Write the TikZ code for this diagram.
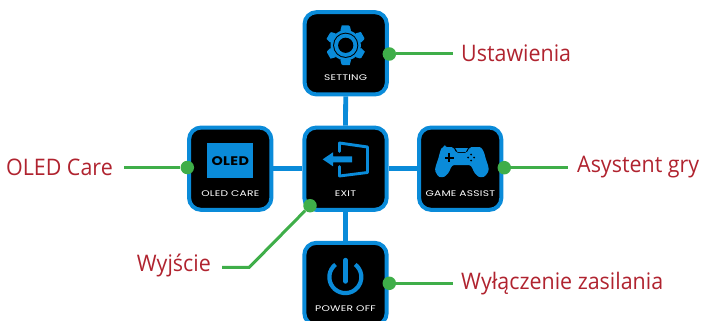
\documentclass[tikz,border=0pt]{standalone}
\usepackage{fontspec}
\setmainfont[FakeStretch=0.94]{Open Sans}
\newfontfamily\techfont[FakeStretch=1.3,LetterSpace=3]{Poppins}
\newfontfamily\oledfont[FakeStretch=1.15,LetterSpace=3]{Poppins}
\definecolor{bluec}{HTML}{0A8BD9}
\definecolor{greenc}{HTML}{3FAE49}
\definecolor{redc}{HTML}{B0232F}
\tikzset{
  menubox/.style={draw=bluec,fill=black,line width=4pt,rounded corners=12pt,minimum width=82.3pt,minimum height=82.3pt,inner sep=0pt},
  link/.style={draw=bluec,line width=4.8pt},
  lead/.style={draw=greenc,line width=3pt},
  leaddot/.style={circle,fill=greenc,minimum size=13.5pt,inner sep=0pt},
  caption/.style={text=redc,font=\fontsize{22.8}{25}\selectfont,inner sep=0pt},
  boxtext/.style={text=white,font=\techfont\fontsize{8.2}{9}\selectfont,inner sep=0pt}
}
\begin{document}
\begin{tikzpicture}[x=1pt,y=-1pt]
\useasboundingbox (0,0) rectangle (704,321);
\clip (0,0) rectangle (704,321);
\node[menubox] (setting) at (345.7,53.3) {};
\node[menubox] (oled) at (230.2,168.7) {};
\node[menubox] (exit) at (345.5,168.7) {};
\node[menubox] (game) at (460.2,168.7) {};
\node[menubox] (power) at (345.5,284) {};
\draw[link] (setting.south) -- (exit.north);
\draw[link] (oled.east) -- (exit.west);
\draw[link] (exit.east) -- (game.west);
\draw[link] (exit.south) -- (power.north);
% gear
\begin{scope}[shift={(345.7,45.3)}]
  \foreach \a in {90,150,210,270,330,30}{
    \fill[bluec,rotate=\a] (14,-5.5) -- (19.8,-4) [rounded corners=1pt] -- (19.8,4) -- (14,5.5) -- cycle;
  }
  \fill[bluec] (0,0) circle (15.2);
  \fill[black] (0,0) circle (12.6);
  \fill[bluec] (0,0) circle (11.6);
  \fill[black] (0,0) circle (7.6);
\end{scope}
% exit icon
\fill[bluec] (322.7,159.3) -- (333,152.3) -- (333,156.3) -- (352,156.3) -- (352,162.3) -- (333,162.3) -- (333,166.3) -- cycle;
\draw[bluec,line width=2.9pt,line join=round,line cap=round] (339.5,151.5) -- (339.5,143) -- (367.5,147) -- (367.5,172.5) -- (339.5,176) -- (339.5,166.5);
% OLED icon
\fill[bluec] (207.3,143.3) rectangle (253.3,178.3);
\node[text=black,font=\oledfont\bfseries\fontsize{12.5}{14}\selectfont,inner sep=0pt] at (230.3,161) {OLED};
% gamepad
\fill[bluec,rounded corners=2pt] (445,147) -- (453.5,147) -- (456,153) -- (467,153) -- (469.5,147) -- (478,147)
  .. controls (482,147.5) and (484,152) .. (485,156)
  .. controls (487,163) and (490,169) .. (487,173.5)
  .. controls (484,178) and (479,177.5) .. (476,174.5)
  .. controls (473,171) and (472,165) .. (467,165)
  -- (456,165)
  .. controls (451,165) and (450,171) .. (447,174.5)
  .. controls (444,177.5) and (439,178) .. (436.5,173.5)
  .. controls (434,169) and (437,163) .. (439,156)
  .. controls (440,152) and (441,147.5) .. (445,147) -- cycle;
\fill[bluec] (455.2,148) -- (468,148) -- (465.6,152) -- (457.6,152) -- cycle;
\fill[black] (448.2,153) rectangle (450.2,162);
\fill[black] (444.7,156.5) rectangle (453.7,158.5);
\fill[black] (471,154.5) circle (1) (471,160.5) circle (1) (468,157.5) circle (1) (474,157.5) circle (1);
% power
\draw[bluec,line width=4.2pt] (335.5,264.5) arc[start angle=232,end angle=-52,radius=16];
\draw[bluec,line width=4.4pt,line cap=round] (345.5,260) -- (345.5,281.5);
% box labels
\node[boxtext] (settingtext) at (345.7,78) {SETTING};
\node[boxtext] (oledtext) at (230.3,193.5) {OLED CARE};
\node[boxtext] (exittext) at (345.5,193.5) {EXIT};
\node[boxtext] (gametext) at (460.3,193.5) {GAME ASSIST};
\node[boxtext] (powertext) at (345.5,308.5) {POWER OFF};
% leads
\node[leaddot] (d1) at (389.3,54) {};
\node[leaddot] (d2) at (187.3,167.5) {};
\node[leaddot] (d3) at (504.3,167.7) {};
\node[leaddot] (d4) at (310,205.7) {};
\node[leaddot] (d5) at (389.3,283.3) {};
\node[caption,anchor=west] (c1) at (461,53.5) {Ustawienia};
\node[caption,anchor=east] (c2) at (113,167.5) {OLED Care};
\node[caption,anchor=west] (c3) at (577,167.5) {Asystent gry};
\node[caption,anchor=east] (c4) at (211,266) {Wyjście};
\node[caption,anchor=west] (c5) at (461,283.5) {Wyłączenie zasilania};
\coordinate (e1) at (453,54);
\coordinate (e2) at (124,167.5);
\coordinate (e3) at (568,167.7);
\coordinate (e4) at (222,267.3);
\coordinate (k4) at (249.3,267.3);
\coordinate (e5) at (453,283.3);
\draw[lead] (d1) -- (e1);
\draw[lead] (d2) -- (e2);
\draw[lead] (d3) -- (e3);
\draw[lead] (d4) -- (k4) -- (e4);
\draw[lead] (d5) -- (e5);
\end{tikzpicture}
\end{document}
